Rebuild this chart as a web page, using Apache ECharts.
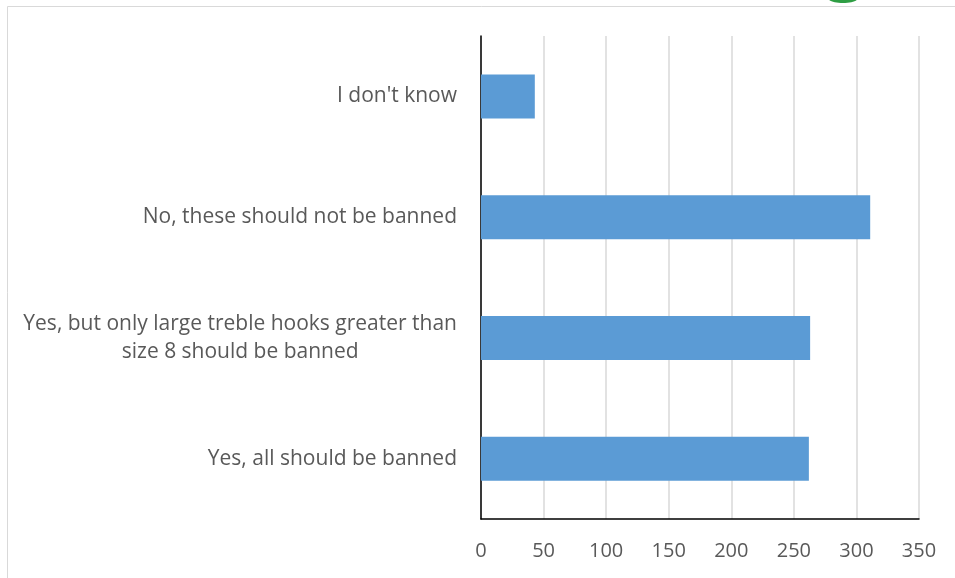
<!DOCTYPE html>
<html>
<head>
<meta charset="utf-8">
<style>
  html, body { margin: 0; padding: 0; background: #ffffff; }
  #chart { width: 955px; height: 578px; }
</style>
<script src="https://cdn.jsdelivr.net/npm/echarts@6/dist/echarts.min.js"></script>
</head>
<body>
<div id="chart"></div>
<script>
// Data
var categories = [
  "Yes, all should be banned",
  "Yes, but only large treble hooks greater than\nsize 8 should be banned",
  "No, these should not be banned",
  "I don't know"
];
var values = [262, 263, 311, 43];
var xTicks = { min: 0, max: 350, interval: 50 };

var labelFont = "21px 'Open Sans'";
function measure(t, font) {
  var c = document.createElement('canvas').getContext('2d');
  c.font = font;
  return c.measureText(t).width;
}

var chart = echarts.init(document.getElementById('chart'), null, { renderer: 'canvas' });

var richW = 0;
categories.forEach(function (c) {
  var parts = c.split('\n');
  if (parts.length > 1) {
    parts.forEach(function (p) { richW = Math.max(richW, measure(p, labelFont)); });
  }
});

chart.setOption({
  backgroundColor: '#ffffff',
  animation: false,
  graphic: [
    { type: 'rect', shape: { x: 7.5, y: 6.5, width: 1200, height: 1200 },
      style: { fill: 'none', stroke: '#d9d9d9', lineWidth: 1 }, z: -1 },
    { type: 'ellipse', shape: { cx: 843, cy: -2, rx: 15, ry: 5 },
      style: { fill: '#2f9e44' } }
  ],
  grid: { left: 481, right: 36, top: 36, bottom: 59, containLabel: false },
  xAxis: {
    type: 'value',
    min: xTicks.min, max: xTicks.max, interval: xTicks.interval,
    axisLine: { show: true, lineStyle: { color: '#000000', width: 1.5 } },
    axisTick: { show: false },
    splitLine: { show: true, lineStyle: { color: '#d9d9d9', width: 1.5 } },
    axisLabel: { color: '#595959', fontSize: 20, fontFamily: 'Open Sans', margin: 22 }
  },
  yAxis: {
    type: 'category',
    data: categories,
    axisLine: { show: true, lineStyle: { color: '#000000', width: 1.5 } },
    axisTick: { show: false },
    axisLabel: {
      color: '#595959', fontSize: 21, fontFamily: 'Open Sans', margin: 24,
      lineHeight: 28,
      formatter: function (v) {
        var parts = v.split('\n');
        if (parts.length === 1) return v;
        return parts.map(function (p) { return '{m|' + p + '}'; }).join('\n');
      },
      rich: {
        m: { width: richW, align: 'center', color: '#595959', fontSize: 21,
             fontFamily: 'Open Sans', lineHeight: 28 }
      }
    }
  },
  series: [{
    type: 'bar',
    data: values,
    barWidth: 44,
    itemStyle: { color: '#5b9bd5' }
  }]
});
</script>
</body>
</html>
